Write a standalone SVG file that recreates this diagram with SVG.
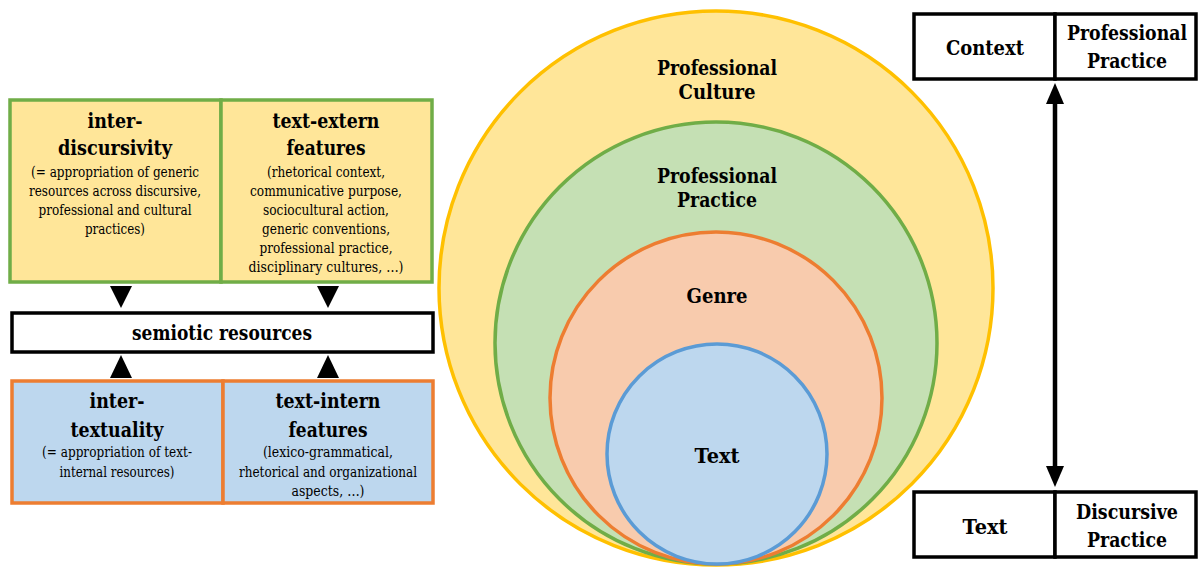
<svg xmlns="http://www.w3.org/2000/svg" width="1198" height="567" viewBox="0 0 1198 567">
<style>
text{fill:#000;text-anchor:middle;font-family:"DejaVu Serif",serif}
.h{font-size:21px;font-weight:bold}
.s{font-size:14px}
.yb{fill:#FFE699;stroke:#70AD47;stroke-width:3.5}
.bb{fill:#BDD7EE;stroke:#ED7D31;stroke-width:3.5}
.wb{fill:#fff;stroke:#000;stroke-width:3.5}
</style>
<rect width="1198" height="567" fill="#fff"/>
<g id="circles">
<circle id="c-culture" cx="716" cy="288" r="277" fill="#FFE699" stroke="#FFC000" stroke-width="3.5"/>
<circle id="c-practice" cx="716" cy="343" r="221" fill="#C5E0B4" stroke="#70AD47" stroke-width="3.5"/>
<circle id="c-genre" cx="716" cy="398" r="166" fill="#F8CBAD" stroke="#ED7D31" stroke-width="3.5"/>
<circle id="c-text" cx="717" cy="454" r="110" fill="#BDD7EE" stroke="#5B9BD5" stroke-width="3.5"/>
<text class="h" x="717" y="75" textLength="120" lengthAdjust="spacingAndGlyphs">Professional</text>
<text class="h" x="717" y="99" textLength="77" lengthAdjust="spacingAndGlyphs">Culture</text>
<text class="h" x="717" y="183" textLength="120" lengthAdjust="spacingAndGlyphs">Professional</text>
<text class="h" x="717" y="207" textLength="80" lengthAdjust="spacingAndGlyphs">Practice</text>
<text class="h" x="717" y="303" textLength="61" lengthAdjust="spacingAndGlyphs">Genre</text>
<text class="h" x="717" y="463" textLength="45" lengthAdjust="spacingAndGlyphs">Text</text>
</g>
<g id="interdiscursivity">
<rect class="yb" x="10" y="100" width="211" height="182"/>
<text class="h" x="115" y="128" textLength="55" lengthAdjust="spacingAndGlyphs">inter-</text>
<text class="h" x="115" y="155" textLength="114" lengthAdjust="spacingAndGlyphs">discursivity</text>
<text class="s" x="115" y="177" textLength="168" lengthAdjust="spacingAndGlyphs">(= appropriation of generic</text>
<text class="s" x="115" y="196" textLength="172" lengthAdjust="spacingAndGlyphs">resources across discursive,</text>
<text class="s" x="115" y="215" textLength="153" lengthAdjust="spacingAndGlyphs">professional and cultural</text>
<text class="s" x="115" y="234" textLength="60" lengthAdjust="spacingAndGlyphs">practices)</text>
</g>
<g id="text-extern">
<rect class="yb" x="221" y="100" width="211" height="182"/>
<text class="h" x="326" y="128" textLength="107" lengthAdjust="spacingAndGlyphs">text-extern</text>
<text class="h" x="326" y="155" textLength="79" lengthAdjust="spacingAndGlyphs">features</text>
<text class="s" x="326" y="177" textLength="118" lengthAdjust="spacingAndGlyphs">(rhetorical context,</text>
<text class="s" x="326" y="196" textLength="152" lengthAdjust="spacingAndGlyphs">communicative purpose,</text>
<text class="s" x="326" y="215" textLength="126" lengthAdjust="spacingAndGlyphs">sociocultural action,</text>
<text class="s" x="326" y="234" textLength="128" lengthAdjust="spacingAndGlyphs">generic conventions,</text>
<text class="s" x="326" y="253" textLength="133" lengthAdjust="spacingAndGlyphs">professional practice,</text>
<text class="s" x="326" y="272" textLength="155" lengthAdjust="spacingAndGlyphs">disciplinary cultures, …)</text>
</g>
<g id="semiotic">
<rect class="wb" x="12" y="313" width="421" height="39"/>
<text class="h" x="222" y="340" textLength="180" lengthAdjust="spacingAndGlyphs">semiotic resources</text>
</g>
<g id="intertextuality">
<rect class="bb" x="12" y="381" width="211" height="122"/>
<text class="h" x="117" y="408" textLength="55" lengthAdjust="spacingAndGlyphs">inter-</text>
<text class="h" x="117" y="437" textLength="93" lengthAdjust="spacingAndGlyphs">textuality</text>
<text class="s" x="117" y="457" textLength="150" lengthAdjust="spacingAndGlyphs">(= appropriation of text-</text>
<text class="s" x="117" y="477" textLength="115" lengthAdjust="spacingAndGlyphs">internal resources)</text>
</g>
<g id="text-intern">
<rect class="bb" x="223" y="381" width="210" height="122"/>
<text class="h" x="328" y="408" textLength="105" lengthAdjust="spacingAndGlyphs">text-intern</text>
<text class="h" x="328" y="437" textLength="79" lengthAdjust="spacingAndGlyphs">features</text>
<text class="s" x="328" y="457" textLength="130" lengthAdjust="spacingAndGlyphs">(lexico-grammatical,</text>
<text class="s" x="328" y="477" textLength="178" lengthAdjust="spacingAndGlyphs">rhetorical and organizational</text>
<text class="s" x="328" y="496" textLength="73" lengthAdjust="spacingAndGlyphs">aspects, …)</text>
</g>
<g id="context-box">
<rect class="wb" x="914" y="14" width="141" height="65"/>
<rect class="wb" x="1055" y="14" width="141" height="65"/>
<text class="h" x="985" y="55" textLength="78" lengthAdjust="spacingAndGlyphs">Context</text>
<text class="h" x="1127" y="40" textLength="120" lengthAdjust="spacingAndGlyphs">Professional</text>
<text class="h" x="1127" y="68" textLength="80" lengthAdjust="spacingAndGlyphs">Practice</text>
</g>
<g id="text-box">
<rect class="wb" x="914" y="492" width="141" height="65"/>
<rect class="wb" x="1055" y="492" width="141" height="65"/>
<text class="h" x="985" y="534" textLength="45" lengthAdjust="spacingAndGlyphs">Text</text>
<text class="h" x="1127" y="519" textLength="102" lengthAdjust="spacingAndGlyphs">Discursive</text>
<text class="h" x="1127" y="547" textLength="80" lengthAdjust="spacingAndGlyphs">Practice</text>
</g>
<g id="connectors" fill="#000">
<polygon points="110,286 132,286 121,308"/>
<polygon points="317,286 339,286 328,308"/>
<polygon points="110,378 132,378 121,355"/>
<polygon points="317,378 339,378 328,355"/>
<line x1="1055" y1="100" x2="1055" y2="470" stroke="#000" stroke-width="4.5"/>
<polygon points="1046,104 1064,104 1055,83"/>
<polygon points="1046,466 1064,466 1055,487"/>
</g>
</svg>
